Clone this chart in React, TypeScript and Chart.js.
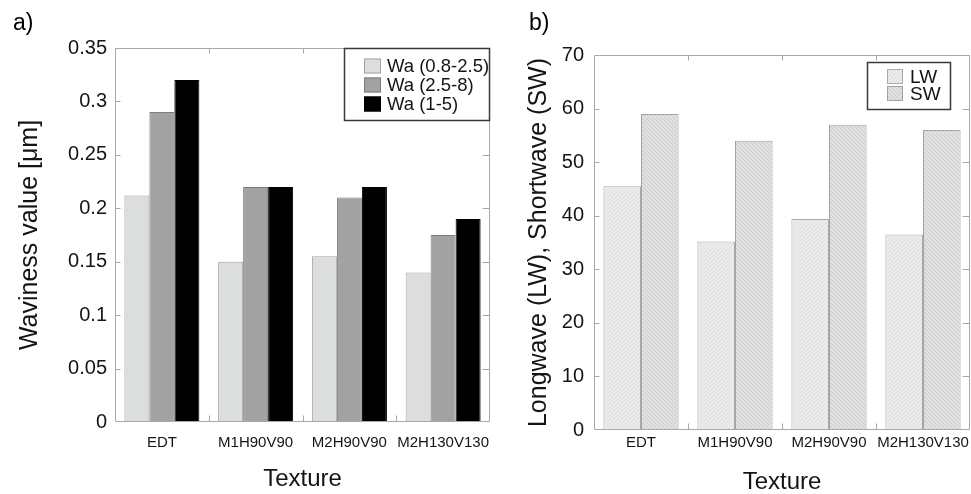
import React, { useEffect, useRef } from "react";
import { Chart, registerables } from "chart.js";

Chart.register(...registerables);

// ---------- data ----------
const textures = ["EDT", "M1H90V90", "M2H90V90", "M2H130V130"];

const waLabels = ["Wa (0.8-2.5)", "Wa (2.5-8)", "Wa (1-5)"];
const wa08to25 = [0.212, 0.15, 0.155, 0.14];
const wa25to8 = [0.29, 0.22, 0.21, 0.175];
const wa1to5 = [0.32, 0.22, 0.22, 0.19];
const waMin = 0;
const waMax = 0.35;
const waStep = 0.05;

const wavesLabels = ["LW", "SW"];
const longwave = [45.5, 35.2, 39.4, 36.5];
const shortwave = [59, 54, 57, 56];
const wavesMin = 0;
const wavesMax = 70;
const wavesStep = 10;

// ---------- styles ----------
const FONT = "'Liberation Sans', Arial, Helvetica, sans-serif";
const TEXT = "#141414";
const FRAME = "#a8a8a8";

function hatch(light: string, dark: string, dir: number): CanvasPattern | string {
  const n = 4;
  const c = document.createElement("canvas");
  c.width = n;
  c.height = n;
  const g = c.getContext("2d");
  if (!g) return light;
  g.fillStyle = light;
  g.fillRect(0, 0, n, n);
  g.fillStyle = dark;
  for (let yy = 0; yy < n; yy++) {
    for (let xx = 0; xx < n; xx++) {
      const d = dir > 0 ? (xx + yy) % 2 : (xx + yy) % 2;
      const diag = dir > 0 ? (xx + yy) % 4 : (xx - yy + n) % 4;
      if (d === 0 && diag !== 0) g.fillRect(xx, yy, 1, 1);
    }
  }
  const p = g.createPattern(c, "repeat");
  return p || light;
}

// frame with inward ticks
const framePlugin = {
  id: "frame",
  afterDatasetsDraw(chart: any, _args: any, opts: any) {
    const { ctx, chartArea } = chart;
    const { left, right, top, bottom } = chartArea;
    const xs = chart.scales.x;
    const ys = chart.scales.y;
    ctx.save();
    ctx.strokeStyle = FRAME;
    ctx.lineWidth = 1;
    const L = Math.round(left) + 0.5;
    const R = Math.round(right) - 0.5;
    const T = Math.round(top) + 0.5;
    const B = Math.round(bottom) - 0.5;
    ctx.beginPath();
    ctx.rect(L, T, R - L, B - T);
    ys.ticks.forEach((t: any, i: number) => {
      if (i === 0 || i === ys.ticks.length - 1) return;
      const py = Math.round(ys.getPixelForValue(t.value)) + 0.5;
      ctx.moveTo(L, py);
      ctx.lineTo(L + opts.leftTick, py);
      ctx.moveTo(R, py);
      ctx.lineTo(R - opts.rightTick, py);
    });
    for (let i = 1; i < xs.ticks.length; i++) {
      const px = Math.round((xs.getPixelForValue(i - 1) + xs.getPixelForValue(i)) / 2) + 0.5;
      ctx.moveTo(px, T);
      ctx.lineTo(px, T + opts.topTick);
      ctx.moveTo(px, B);
      ctx.lineTo(px, B - opts.bottomTick);
    }
    ctx.stroke();
    ctx.restore();
  },
};

// boxed legend inside the plot area
const boxLegendPlugin = {
  id: "boxLegend",
  afterDatasetsDraw(chart: any, _args: any, o: any) {
    const { ctx, chartArea } = chart;
    const bx = chartArea.right - o.right - o.w;
    const by = chartArea.top + o.top;
    ctx.save();
    ctx.fillStyle = "#ffffff";
    ctx.fillRect(bx, by, o.w, o.h);
    ctx.strokeStyle = "#3a3a3a";
    ctx.lineWidth = 1.5;
    ctx.strokeRect(bx + 0.5, by + 0.5, o.w - 1, o.h - 1);
    ctx.font = `${o.fontSize}px ${FONT}`;
    ctx.textBaseline = "middle";
    ctx.textAlign = "left";
    chart.data.datasets.forEach((ds: any, i: number) => {
      const cy = by + o.firstRow + i * o.rowH;
      const sx = bx + o.swatchX;
      ctx.fillStyle = ds.backgroundColor;
      ctx.fillRect(sx, cy - o.sh / 2, o.sw, o.sh);
      ctx.strokeStyle = ds.borderColor;
      ctx.lineWidth = 1;
      ctx.strokeRect(sx + 0.5, cy - o.sh / 2 + 0.5, o.sw - 1, o.sh - 1);
      ctx.fillStyle = TEXT;
      ctx.fillText(ds.label, bx + o.textX, cy + 1);
    });
    ctx.restore();
  },
};

// panel letter
const panelLabelPlugin = {
  id: "panelLabel",
  afterDraw(chart: any, _args: any, o: any) {
    const { ctx } = chart;
    ctx.save();
    ctx.font = `${o.size}px ${FONT}`;
    ctx.fillStyle = "#000";
    ctx.textBaseline = "alphabetic";
    ctx.textAlign = "left";
    ctx.fillText(o.text, o.x, o.y);
    ctx.restore();
  },
};

function fmtWa(v: any) {
  return String(parseFloat(Number(v).toFixed(2)));
}

function ChartA() {
  const ref = useRef<HTMLCanvasElement>(null);
  useEffect(() => {
    if (!ref.current) return;
    const chart = new Chart(ref.current, {
      type: "bar",
      data: {
        labels: textures,
        datasets: [
          { label: waLabels[0], data: wa08to25, backgroundColor: "#dcdedd", borderColor: "#a3a3a3", borderWidth: 1 },
          { label: waLabels[1], data: wa25to8, backgroundColor: "#a2a2a2", borderColor: "#7c7c7c", borderWidth: 1 },
          { label: waLabels[2], data: wa1to5, backgroundColor: "#000000", borderColor: "#000000", borderWidth: 1 },
        ],
      },
      options: {
        responsive: false,
        animation: false,
        devicePixelRatio: 1,
        layout: { padding: { left: 0, top: 48, right: 20, bottom: 0 } },
        datasets: { bar: { categoryPercentage: 0.8, barPercentage: 1.0 } },
        plugins: {
          legend: { display: false },
          tooltip: { enabled: false },
          frame: { leftTick: 5, rightTick: 7, topTick: 5, bottomTick: 6 },
          boxLegend: { right: 0, top: 0, w: 146, h: 73, firstRow: 18, rowH: 19, swatchX: 20, sw: 17, sh: 15, textX: 43, fontSize: 18.5 },
          panelLabel: { text: "a)", x: 13, y: 30, size: 23 },
        } as any,
        scales: {
          x: {
            offset: true,
            grid: { display: false, drawTicks: false },
            border: { display: false },
            ticks: { font: { family: FONT, size: 15 }, color: TEXT, padding: 12, maxRotation: 0, autoSkip: false },
            title: { display: true, text: "Texture", color: TEXT, font: { family: FONT, size: 24, lineHeight: 1 }, padding: { top: 0, bottom: 3 } },
            afterFit: (s: any) => { s.height = 72; },
          },
          y: {
            min: waMin,
            max: waMax,
            grid: { display: false, drawTicks: false },
            border: { display: false },
            ticks: { stepSize: waStep, font: { family: FONT, size: 20 }, color: TEXT, padding: 8, callback: fmtWa },
            title: { display: true, text: "Waviness value [μm]", color: TEXT, font: { family: FONT, size: 25, lineHeight: 1.2 }, padding: { top: 15, bottom: 0 } },
            afterFit: (s: any) => { s.width = 115; },
          },
        },
      },
      plugins: [framePlugin, boxLegendPlugin, panelLabelPlugin],
    } as any);
    return () => chart.destroy();
  }, []);
  return (
    <canvas ref={ref} width={510} height={494} style={{ position: "absolute", left: 0, top: 0, width: 510, height: 494 }} />
  );
}

function ChartB() {
  const ref = useRef<HTMLCanvasElement>(null);
  useEffect(() => {
    if (!ref.current) return;
    const lwFill = hatch("#ececec", "#dcdcdc", 1);
    const swFill = hatch("#e0e0e0", "#cdcdcd", -1);
    const chart = new Chart(ref.current, {
      type: "bar",
      data: {
        labels: textures,
        datasets: [
          { label: wavesLabels[0], data: longwave, backgroundColor: lwFill, borderColor: "#aaaaaa", borderWidth: 1 },
          { label: wavesLabels[1], data: shortwave, backgroundColor: swFill, borderColor: "#a2a2a2", borderWidth: 1 },
        ],
      },
      options: {
        responsive: false,
        animation: false,
        devicePixelRatio: 1,
        layout: { padding: { left: 0, top: 55, right: 20, bottom: 0 } },
        datasets: { bar: { categoryPercentage: 0.8, barPercentage: 1.0 } },
        plugins: {
          legend: { display: false },
          tooltip: { enabled: false },
          frame: { leftTick: 5, rightTick: 7, topTick: 5, bottomTick: 6 },
          boxLegend: { right: 19, top: 7, w: 84, h: 48, firstRow: 14.5, rowH: 17, swatchX: 20, sw: 16, sh: 15, textX: 43, fontSize: 19 },
          panelLabel: { text: "b)", x: 59, y: 30, size: 23 },
        } as any,
        scales: {
          x: {
            offset: true,
            grid: { display: false, drawTicks: false },
            border: { display: false },
            ticks: { font: { family: FONT, size: 15 }, color: TEXT, padding: 4, maxRotation: 0, autoSkip: false },
            title: { display: true, text: "Texture", color: TEXT, font: { family: FONT, size: 24, lineHeight: 1 }, padding: { top: 0, bottom: 0 } },
            afterFit: (s: any) => { s.height = 64; },
          },
          y: {
            min: wavesMin,
            max: wavesMax,
            grid: { display: false, drawTicks: false },
            border: { display: false },
            ticks: { stepSize: wavesStep, font: { family: FONT, size: 20 }, color: TEXT, padding: 10 },
            title: { display: true, text: "Longwave (LW), Shortwave (SW)", color: TEXT, font: { family: FONT, size: 25, lineHeight: 1.2 }, padding: { top: 54, bottom: 0 } },
            afterFit: (s: any) => { s.width = 124; },
          },
        },
      },
      plugins: [framePlugin, boxLegendPlugin, panelLabelPlugin],
    } as any);
    return () => chart.destroy();
  }, []);
  return (
    <canvas ref={ref} width={520} height={494} style={{ position: "absolute", left: 470, top: 0, width: 520, height: 494 }} />
  );
}

export default function App() {
  return (
    <div style={{ position: "fixed", left: 0, top: 0, width: 971, height: 494, overflow: "hidden", background: "#ffffff" }}>
      <ChartA />
      <ChartB />
    </div>
  );
}
